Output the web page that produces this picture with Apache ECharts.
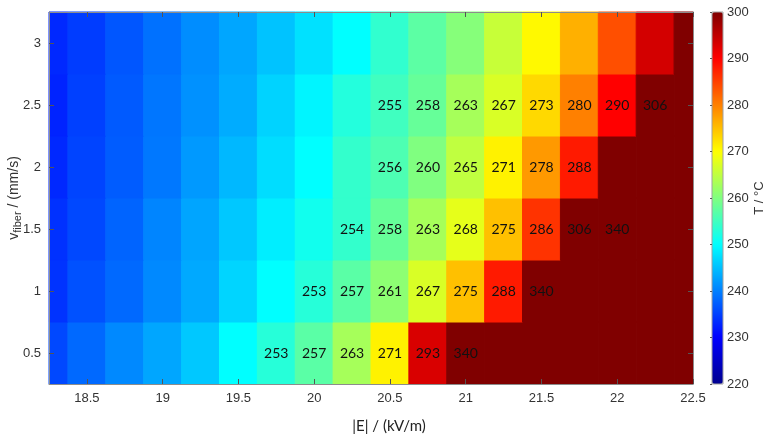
<!DOCTYPE html>
<html>
<head>
<meta charset="utf-8">
<script src="https://cdn.jsdelivr.net/npm/echarts@6/dist/echarts.min.js"></script>
<style>
  html, body { margin: 0; padding: 0; background: #ffffff; }
  #chart { width: 763px; height: 438px; }
</style>
</head>
<body>
<div id="chart"></div>
<script>
// Field strength |E| (kV/m): cell centres along x
const fieldStrength = [18.25, 18.5, 18.75, 19, 19.25, 19.5, 19.75, 20, 20.25,
                       20.5, 20.75, 21, 21.25, 21.5, 21.75, 22, 22.25, 22.5];
// Fiber speed (mm/s): cell centres along y
const fiberSpeed = [0.5, 1, 1.5, 2, 2.5, 3];

// Temperature T (°C), one array per fiber speed
const temp_v0_5 = [235.6, 238.2, 240.7, 243, 245.7, 250, 253, 257, 263, 271, 293, 340, 340, 340, 340, 340, 340, 340];
const temp_v1_0 = [234, 236.3, 238.2, 240.7, 243.2, 246.7, 250, 253, 257, 261, 267, 275, 288, 340, 340, 340, 340, 340];
const temp_v1_5 = [233.8, 235.6, 237.8, 240.4, 242.9, 245.7, 248.7, 251.3, 254, 258, 263, 268, 275, 286, 306, 340, 340, 340];
const temp_v2_0 = [233.1, 235.3, 237.2, 239.4, 242, 244.4, 247.3, 250, 254, 256, 260, 265, 271, 278, 288, 340, 340, 340];
const temp_v2_5 = [232.7, 235, 237, 239.2, 241.3, 243.5, 246.5, 249.2, 252.7, 255, 258, 263, 267, 273, 280, 290, 306, 340];
const temp_v3_0 = [233.1, 234.7, 236.7, 238.8, 241, 243, 245.3, 247.6, 250, 253.8, 257.2, 260.5, 265.6, 270.5, 276.2, 283.8, 293.5, 340];
const tempRows = [temp_v0_5, temp_v1_0, temp_v1_5, temp_v2_0, temp_v2_5, temp_v3_0];

// Column index range [first, last] whose values are printed, per fiber speed
const labeledCols = [[6, 11], [7, 13], [8, 15], [9, 14], [9, 16], null];

// Axis ticks
const xTicks = [18.5, 19, 19.5, 20, 20.5, 21, 21.5, 22, 22.5];
const yTicks = [0.5, 1, 1.5, 2, 2.5, 3];
const colorMin = 220, colorMax = 300, colorStep = 10;

// Jet colour map
const jet = ['#00008F', '#0000FF', '#0080FF', '#00FFFF', '#80FF80',
             '#FFFF00', '#FF8000', '#FF0000', '#800000'];

const cellW = fieldStrength[1] - fieldStrength[0];
const cellH = fiberSpeed[1] - fiberSpeed[0];

const cells = [];
tempRows.forEach((row, r) => {
  const rng = labeledCols[r];
  row.forEach((t, c) => {
    const shown = rng && c >= rng[0] && c <= rng[1] ? 1 : 0;
    cells.push([fieldStrength[c], fiberSpeed[r], t, shown]);
  });
});

const tickFont = 'Liberation Sans';
const axisGrey = '#8c8c8c';
const textGrey = '#333333';

function frameAxis(extra) {
  return Object.assign({
    type: 'value',
    z: 10,
    axisLine: { show: true, lineStyle: { color: axisGrey, width: 1 } },
    axisTick: { show: true, inside: true, length: 5, lineStyle: { color: '#555' } },
    splitLine: { show: false }
  }, extra);
}

const chart = echarts.init(document.getElementById('chart'), null, { renderer: 'canvas' });

chart.setOption({
  animation: false,
  backgroundColor: '#ffffff',
  grid: [
    { left: 49, top: 12, width: 644, height: 372, outerBoundsMode: 'none' },
    { left: 712, top: 12, width: 11, height: 372, outerBoundsMode: 'none',
      show: true, borderColor: '#a0a0a0', borderWidth: 1, backgroundColor: 'transparent', z: 10 }
  ],
  xAxis: [
    frameAxis({
      gridIndex: 0, position: 'bottom',
      min: fieldStrength[0], max: fieldStrength[fieldStrength.length - 1],
      axisTick: { show: true, inside: true, length: 5, customValues: xTicks, lineStyle: { color: '#555' } },
      axisLabel: { customValues: xTicks, margin: 8, fontFamily: tickFont, fontSize: 13, color: textGrey },
      name: '|E| / (kV/m)', nameLocation: 'middle', nameGap: 35,
      nameMoveOverlap: false,
      nameTextStyle: { fontFamily: 'Lato', fontSize: 15, color: '#222', padding: [0, 0, 0, 36] }
    }),
    frameAxis({
      gridIndex: 0, position: 'top',
      min: fieldStrength[0], max: fieldStrength[fieldStrength.length - 1],
      axisTick: { show: true, inside: true, length: 5, customValues: xTicks, lineStyle: { color: '#555' } },
      axisLabel: { show: false, customValues: xTicks }
    }),
    { type: 'value', gridIndex: 1, show: false, min: 0, max: 1 }
  ],
  yAxis: [
    frameAxis({
      gridIndex: 0, position: 'left',
      min: fiberSpeed[0] - cellH / 2, max: fiberSpeed[fiberSpeed.length - 1] + cellH / 2,
      axisTick: { show: true, inside: true, length: 5, customValues: yTicks, lineStyle: { color: '#555' } },
      axisLabel: { customValues: yTicks, margin: 8, fontFamily: tickFont, fontSize: 13, color: textGrey },
      name: '{m|v}{s|fiber}{m| / (mm/s)}', nameLocation: 'middle', nameGap: 26,
      nameMoveOverlap: false,
      nameTextStyle: {
        rich: {
          m: { fontFamily: tickFont, fontSize: 14, color: textGrey, lineHeight: 16, verticalAlign: 'top' },
          s: { fontFamily: tickFont, fontSize: 11, color: textGrey, lineHeight: 12, padding: [10, 0, 0, 0], verticalAlign: 'bottom' }
        }
      }
    }),
    frameAxis({
      gridIndex: 0, position: 'right',
      min: fiberSpeed[0] - cellH / 2, max: fiberSpeed[fiberSpeed.length - 1] + cellH / 2,
      axisTick: { show: true, inside: true, length: 5, customValues: yTicks, lineStyle: { color: '#555' } },
      axisLabel: { show: false, customValues: yTicks }
    }),
    {
      type: 'value', gridIndex: 1, position: 'right', z: 10,
      min: colorMin, max: colorMax, interval: colorStep,
      axisLine: { show: false },
      axisTick: { show: true, inside: true, length: 2, lineStyle: { color: '#555' } },
      axisLabel: { margin: 4, fontFamily: tickFont, fontSize: 13, color: textGrey },
      splitLine: { show: false },
      name: 'T / °C', nameLocation: 'middle', nameGap: 30, nameRotate: 90,
      nameTextStyle: { fontFamily: tickFont, fontSize: 13, color: textGrey }
    }
  ],
  visualMap: {
    type: 'continuous',
    min: colorMin, max: colorMax,
    seriesIndex: 0, dimension: 2,
    calculable: false, hoverLink: false,
    left: 712, top: 12, padding: 0,
    itemWidth: 11, itemHeight: 372,
    inRange: { color: jet },
    z: 4
  },
  series: [{
    type: 'custom',
    coordinateSystem: 'cartesian2d',
    xAxisIndex: 0, yAxisIndex: 0,
    data: cells,
    encode: { x: 0, y: 1 },
    renderItem: function (params, api) {
      const x = api.value(0), y = api.value(1);
      const p0 = api.coord([x - cellW / 2, y + cellH / 2]);
      const p1 = api.coord([x + cellW / 2, y - cellH / 2]);
      const cs = params.coordSys;
      const shape = echarts.graphic.clipRectByRect(
        { x: p0[0], y: p0[1], width: p1[0] - p0[0], height: p1[1] - p0[1] },
        { x: cs.x, y: cs.y, width: cs.width, height: cs.height }
      );
      if (!shape) return;
      const color = api.visual('color');
      const children = [{
        type: 'rect', shape: shape,
        style: { fill: color, stroke: color, lineWidth: 1 }
      }];
      if (api.value(3)) {
        children.push({
          type: 'text',
          style: {
            text: String(Math.round(api.value(2))),
            x: (p0[0] + p1[0]) / 2, y: (p0[1] + p1[1]) / 2,
            align: 'center', verticalAlign: 'middle',
            fill: '#111', font: '14px Lato'
          }
        });
      }
      return { type: 'group', children: children };
    }
  }]
});
</script>
</body>
</html>
